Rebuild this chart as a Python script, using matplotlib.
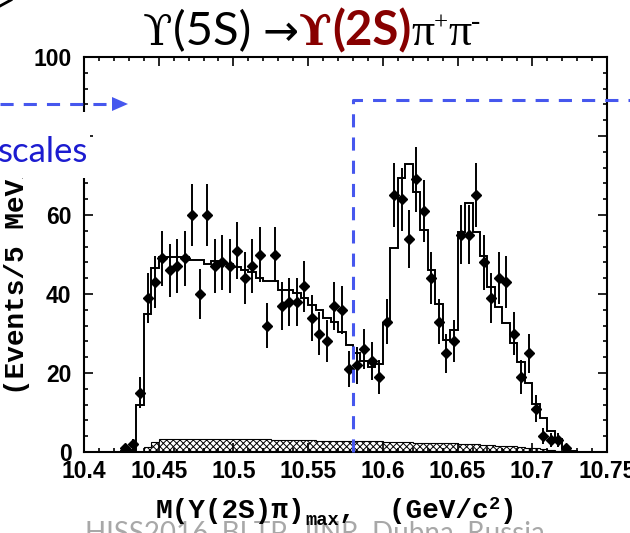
import numpy as np
import matplotlib
matplotlib.use("Agg")
import matplotlib.pyplot as plt
from matplotlib.lines import Line2D
from matplotlib.patches import Rectangle, Polygon
from matplotlib.ticker import MultipleLocator, FuncFormatter

plt.rcParams["font.family"] = "Liberation Sans"
plt.rcParams["font.weight"] = "bold"
plt.rcParams["hatch.linewidth"] = 0.7

W, H = 630, 533

# 5 MeV bins from 10.40 to 10.75 GeV
M_LO, M_HI = 10.40, 10.75
BIN = 0.005

# events per bin (data)
COUNTS = [0, 0, 0, 0, 0, 1, 2, 15, 39, 43,
          49, 46, 47, 49, 60, 40, 60, 47, 48, 47,
          51, 44, 47, 50, 32, 50, 37, 38, 38, 42,
          34, 30, 28, 37, 36, 21, 22, 26, 23, 19,
          33, 65, 64, 54, 69, 61, 44, 33, 25, 28,
          55, 55, 65, 48, 39, 44, 43, 30, 19, 25,
          11, 4, 3, 3, 1, 0, 0, 0, 0, 0]

# fit result per bin
FIT = [0, 0, 0, 0, 0, 0.2, 0.5, 11.8, 35.0, 46.5,
       49.3, 49.3, 49.3, 49.3, 48.6, 48.6, 47.5, 48.4, 48.0, 47.5,
       46.8, 46.1, 45.6, 44.0, 43.3, 43.2, 41.0, 41.0, 40.2, 38.9,
       37.2, 36.0, 33.8, 33.0, 30.5, 27.0, 25.0, 23.0, 21.5, 22.2,
       32.5, 51.7, 69.4, 72.9, 65.8, 56.2, 46.1, 37.5, 28.4, 30.9,
       55.8, 63.1, 55.8, 49.6, 41.7, 36.8, 32.7, 27.5, 22.9, 17.4,
       12.2, 8.5, 5.3, 3.2, 0.9, 0.3, 0.1, 0.1, 0.1, 0.1]

# non-resonant background per bin
BKG = [0, 0, 0, 0, 0, 0, 0, 0, 1.3, 2.6,
       3.4, 3.4, 3.4, 3.4, 3.4, 3.3, 3.3, 3.3, 3.3, 3.3,
       3.3, 3.2, 3.2, 3.2, 3.2, 3.1, 3.1, 3.1, 3.0, 3.0,
       3.0, 2.9, 2.9, 2.9, 2.8, 2.8, 2.8, 2.7, 2.7, 2.7,
       2.6, 2.6, 2.5, 2.5, 2.4, 2.4, 2.3, 2.3, 2.2, 2.2,
       2.1, 2.0, 1.9, 1.8, 1.7, 1.6, 1.5, 1.4, 1.2, 1.1,
       0.9, 0.7, 0.5, 0.3, 0.1, 0, 0, 0, 0, 0]

CUT_MASS = 10.58

BLUE = "#4657ee"
DARK_RED = "#870000"


def fx(px):
    return px / W


def fy(py):
    # pixel row from the top -> figure fraction
    return 1 - py / H


def run(fig, x, y, pieces):
    """Draw text pieces one after another starting at pixel (x, y-from-top baseline)."""
    r = fig.canvas.get_renderer()
    for txt, kw, dy in pieces:
        t = fig.text(fx(x), fy(y - dy), txt, ha="left", va="baseline", **kw)
        x += t.get_window_extent(r).width
    return x


fig = plt.figure(figsize=(W / 100, H / 100), dpi=100)
ax = fig.add_axes([fx(84), fy(452), (607 - 84) / W, (452 - 57) / H])

counts = np.array(COUNTS, dtype=float)
edges = M_LO + BIN * np.arange(len(COUNTS) + 1)
centers = edges[:-1] + BIN / 2

ax.stairs(BKG, edges, fill=True, facecolor="white", edgecolor="black",
          hatch="xxxxx", linewidth=0.8)
ax.stairs(FIT, edges, color="black", linewidth=1.4)
sel = counts > 0
ax.errorbar(centers[sel], counts[sel], yerr=np.sqrt(counts[sel]), fmt="D",
            ms=5, color="black", elinewidth=1.4, capsize=0)

ax.set_xlim(M_LO, M_HI)
ax.set_ylim(0, 100)
ax.xaxis.set_major_locator(MultipleLocator(0.05))
ax.xaxis.set_minor_locator(MultipleLocator(0.01))
ax.yaxis.set_major_locator(MultipleLocator(20))
ax.yaxis.set_minor_locator(MultipleLocator(4))
fmt = FuncFormatter(lambda v, _: f"{v:g}")
ax.xaxis.set_major_formatter(fmt)
ax.yaxis.set_major_formatter(fmt)
ax.tick_params(which="both", direction="in", top=True, right=True, width=1.2,
               labelsize=16.5)
ax.tick_params(which="major", length=6.5)
ax.tick_params(which="minor", length=3.2)
ax.tick_params(axis="x", pad=6)
ax.tick_params(axis="y", pad=9)
for s in ax.spines.values():
    s.set_linewidth(1.5)

mono = dict(family="Liberation Mono", weight="bold", color="black")
fig.text(fx(17), fy(254), "(Events/5 MeV/c²)", rotation=90, ha="center",
         va="center", fontsize=20, **mono)

# watermark line at the bottom edge
fig.text(fx(85), fy(541), "HISS2016, BLTP, JINR, Dubna, Russia", ha="left",
         va="baseline", fontsize=20, family="Lato", weight="normal",
         color="#a8a8a8")

run(fig, 156, 518, [
    ("M(Y(2S)π)", dict(fontsize=20, **mono), 0),
    ("max", dict(fontsize=13.5, **mono), -7),
    (",  (GeV/c", dict(fontsize=20, **mono), 0),
    ("2", dict(fontsize=13.5, **mono), 9),
    (")", dict(fontsize=20, **mono), 0),
])

# title
serif = dict(family=["DejaVu Serif"], weight="normal")
run(fig, 143, 45, [
    ("ϒ", dict(fontsize=31, color="black", **serif), 0),
    ("(5S) ", dict(fontsize=34, family="Lato", weight="normal", color="black"), 0),
    ("→", dict(fontsize=31, family="DejaVu Sans", weight="normal", color="black"), 0),
    ("ϒ", dict(fontsize=31, color=DARK_RED, family=["DejaVu Serif"], weight="bold"), 0),
    ("(2S)", dict(fontsize=34, family="Lato", weight="bold", color=DARK_RED), 0),
    ("π", dict(fontsize=33, family="Liberation Serif", weight="normal", color="black"), 0),
    ("+", dict(fontsize=18, family="Liberation Serif", weight="normal", color="black"), 15),
    ("π", dict(fontsize=33, family="Liberation Serif", weight="normal", color="black"), 0),
    ("-", dict(fontsize=20, family="Liberation Serif", weight="normal", color="black"), 16),
])

# label box on the left
fig.add_artist(Rectangle((0, fy(178)), fx(90), fy(112) - fy(178),
                         transform=fig.transFigure, facecolor="white",
                         edgecolor="none", zorder=10))
fig.text(fx(88), fy(162), "scales", ha="right", va="baseline", fontsize=25,
         family="Lato", weight="normal", color="#1c1cd0", zorder=11)

# dashed arrow pointing into the plot
fig.add_artist(Line2D([0, fx(113)], [fy(104), fy(104)], transform=fig.transFigure,
                      color=BLUE, lw=2.2, dashes=(4.3, 3.3), zorder=12))
fig.add_artist(Polygon([(fx(112), fy(97)), (fx(128), fy(104)), (fx(112), fy(111))],
                       closed=True, transform=fig.transFigure, facecolor=BLUE,
                       edgecolor="none", zorder=12))

# dashed frame marking the region above CUT_MASS
cut_px = 84 + (CUT_MASS - M_LO) / (M_HI - M_LO) * (607 - 84)
fig.add_artist(Line2D([fx(cut_px), fx(cut_px), 1.0], [fy(452), fy(100), fy(100)],
                      transform=fig.transFigure, color=BLUE, lw=2.2,
                      dashes=(4.3, 3.3), zorder=12))

# corner stroke
fig.add_artist(Line2D([0, fx(11)], [fy(6), fy(0)], transform=fig.transFigure,
                      color="black", lw=2.0, zorder=12))

fig.savefig("out.png", dpi=100)
